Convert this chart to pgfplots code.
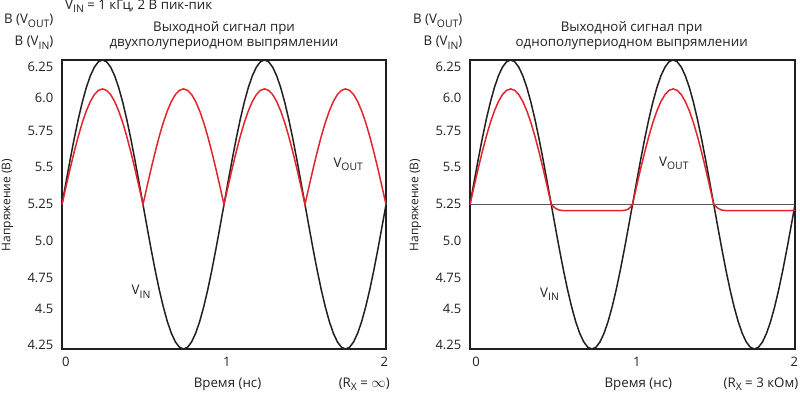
\documentclass[border=0pt]{standalone}
\usepackage{pgfplots}
\pgfplotsset{compat=1.18}
\usepackage{pgfplotstable}
\usepackage{fontspec}
\setmainfont{Open Sans}
\definecolor{ink}{RGB}{35,31,32}
\definecolor{vred}{RGB}{228,36,42}
\definecolor{hline}{RGB}{90,90,90}
\newcommand\sub[1]{\raisebox{-3.2pt}{\fontsize{10.4}{11}\selectfont #1}}
\newcommand\subb[1]{\raisebox{-2.6pt}{\fontsize{10.4}{11}\selectfont #1}}
\newcommand\txt{\fontsize{13.3}{15}\selectfont}

% t  vin  vfw (full-wave out)  vhw (half-wave out)
\pgfplotstableread{
t vin vfw vhw
0.000 5.250 5.250 5.250
0.025 5.406 5.375 5.375
0.050 5.559 5.497 5.497
0.075 5.704 5.613 5.613
0.100 5.838 5.720 5.720
0.125 5.957 5.816 5.816
0.150 6.059 5.897 5.897
0.175 6.141 5.963 5.963
0.200 6.201 6.011 6.011
0.225 6.238 6.040 6.040
0.250 6.250 6.050 6.050
0.275 6.238 6.040 6.040
0.300 6.201 6.011 6.011
0.325 6.141 5.963 5.963
0.350 6.059 5.897 5.897
0.375 5.957 5.816 5.816
0.400 5.838 5.720 5.720
0.425 5.704 5.613 5.613
0.450 5.559 5.497 5.497
0.475 5.406 5.375 5.375
0.500 5.250 5.250 5.250
0.525 5.094 5.375 5.224
0.550 4.941 5.497 5.211
0.575 4.796 5.613 5.208
0.600 4.662 5.720 5.207
0.625 4.543 5.816 5.207
0.650 4.441 5.897 5.207
0.675 4.359 5.963 5.207
0.700 4.299 6.011 5.207
0.725 4.262 6.040 5.207
0.750 4.250 6.050 5.207
0.775 4.262 6.040 5.207
0.800 4.299 6.011 5.207
0.825 4.359 5.963 5.207
0.850 4.441 5.897 5.207
0.875 4.543 5.816 5.207
0.900 4.662 5.720 5.207
0.925 4.796 5.613 5.208
0.950 4.941 5.497 5.209
0.975 5.094 5.375 5.218
1.000 5.250 5.250 5.250
1.025 5.406 5.375 5.375
1.050 5.559 5.497 5.497
1.075 5.704 5.613 5.613
1.100 5.838 5.720 5.720
1.125 5.957 5.816 5.816
1.150 6.059 5.897 5.897
1.175 6.141 5.963 5.963
1.200 6.201 6.011 6.011
1.225 6.238 6.040 6.040
1.250 6.250 6.050 6.050
1.275 6.238 6.040 6.040
1.300 6.201 6.011 6.011
1.325 6.141 5.963 5.963
1.350 6.059 5.897 5.897
1.375 5.957 5.816 5.816
1.400 5.838 5.720 5.720
1.425 5.704 5.613 5.613
1.450 5.559 5.497 5.497
1.475 5.406 5.375 5.375
1.500 5.250 5.250 5.250
1.525 5.094 5.375 5.224
1.550 4.941 5.497 5.211
1.575 4.796 5.613 5.208
1.600 4.662 5.720 5.207
1.625 4.543 5.816 5.207
1.650 4.441 5.897 5.207
1.675 4.359 5.963 5.207
1.700 4.299 6.011 5.207
1.725 4.262 6.040 5.207
1.750 4.250 6.050 5.207
1.775 4.262 6.040 5.207
1.800 4.299 6.011 5.207
1.825 4.359 5.963 5.207
1.850 4.441 5.897 5.207
1.875 4.543 5.816 5.207
1.900 4.662 5.720 5.207
1.925 4.796 5.613 5.207
1.950 4.941 5.497 5.207
1.975 5.094 5.375 5.208
2.000 5.250 5.250 5.212
}\datatab

\pgfplotsset{
  schem/.style={
    scale only axis, height=289pt,
    xmin=0, xmax=2, ymin=4.25, ymax=6.25,
    axis line style={ink, line width=1.6pt},
    major tick length=0pt,
    tick label style={font=\fontsize{13}{15}\selectfont, text=ink},
    /pgf/number format/assume math mode=true,
    ytick={6.199,5.989,5.759,5.507,5.251,4.997,4.739,4.525,4.278},
    yticklabels={6.25,6.0,5.75,5.5,5.25,5.0,4.75,4.5,4.25},
    yticklabel style={inner sep=0pt, anchor=east, xshift=-8.5pt},
    xticklabels={0,1,2},
    xticklabel style={inner sep=0pt, anchor=north, yshift=-8pt},
    clip=false,
  }
}

\begin{document}
\begin{tikzpicture}[every node/.style={text=ink, font=\txt}]
\useasboundingbox (0,0) rectangle (800pt,393pt);

% ---------- left: full-wave ----------
\begin{axis}[schem, at={(62pt,44pt)}, anchor=south west, width=324pt,
  xtick={0.023,1.017,1.99}]
  \addplot[ink, line width=1.5pt] table[x=t,y=vin]{\datatab};
  \addplot[vred, line width=1.5pt] table[x=t,y=vfw]{\datatab};
\end{axis}

% ---------- right: half-wave ----------
\begin{axis}[schem, at={(470pt,44pt)}, anchor=south west, width=325pt,
  xtick={0.037,1.026,1.996}]
  \addplot[hline, line width=1.2pt] coordinates {(0,5.25) (2,5.25)};
  \addplot[ink, line width=1.5pt] table[x=t,y=vin]{\datatab};
  \addplot[vred, line width=1.5pt] table[x=t,y=vhw]{\datatab};
\end{axis}

% ---------- texts ----------
\node[anchor=base west, inner sep=0pt] at (65pt,383.5pt) {V\sub{IN} = 1 кГц, 2 В пик-пик};

\node[anchor=base east, inner sep=0pt] at (53.5pt,369pt) {В (V\sub{OUT})};
\node[anchor=base east, inner sep=0pt] at (53.5pt,347pt) {В (V\sub{IN})};
\node[anchor=base, inner sep=0pt] at (224pt,361.3pt) {Выходной сигнал при};
\node[anchor=base, inner sep=0pt] at (224pt,346.3pt) {двухполупериодном выпрямлении};

\node[anchor=base east, inner sep=0pt] at (462.5pt,369pt) {В (V\sub{OUT})};
\node[anchor=base east, inner sep=0pt] at (462.5pt,347pt) {В (V\sub{IN})};
\node[anchor=base, inner sep=0pt] at (631.7pt,361.3pt) {Выходной сигнал при};
\node[anchor=base, inner sep=0pt] at (631.7pt,346.3pt) {однополупериодном выпрямлении};

\node[rotate=90, inner sep=0pt, font=\fontsize{12}{14}\selectfont] at (7.5pt,188pt) {Напряжение (В)};
\node[rotate=90, inner sep=0pt, font=\fontsize{12}{14}\selectfont] at (415.5pt,188pt) {Напряжение (В)};

\node[anchor=base, inner sep=0pt] at (227.5pt,5pt) {Время (нс)};
\node[anchor=base east, inner sep=0pt] at (390pt,5.5pt) {(R\subb{X} = $\infty$)};
\node[anchor=base, inner sep=0pt] at (638.3pt,5pt) {Время (нс)};
\node[anchor=base east, inner sep=0pt] at (798.5pt,5.5pt) {(R\subb{X} = 3 кОм)};

\node[anchor=base west, inner sep=0pt] at (131.5pt,98pt) {V\sub{IN}};
\node[anchor=base west, inner sep=0pt] at (540pt,95.7pt) {V\sub{IN}};
\node[anchor=base west, inner sep=0pt] at (333.3pt,225.3pt) {V\sub{OUT}};
\node[anchor=base west, inner sep=0pt] at (659pt,226.3pt) {V\sub{OUT}};
\end{tikzpicture}
\end{document}
